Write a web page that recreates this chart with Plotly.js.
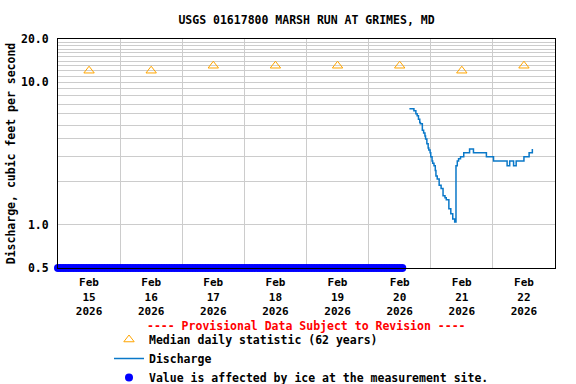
<!DOCTYPE html>
<html>
<head>
<meta charset="utf-8">
<script src="https://cdn.plot.ly/plotly-3.0.1.min.js"></script>
<style>html,body{margin:0;padding:0;background:#fff}#chart{width:576px;height:384px}</style>
</head>
<body>
<div id="chart"></div>
<script>
// Median daily statistic (62 years)
const medianTime = ['2026-02-15 12:00','2026-02-16 12:00','2026-02-17 12:00','2026-02-18 12:00',
  '2026-02-19 12:00','2026-02-20 12:00','2026-02-21 12:00','2026-02-22 12:00'];
const medianValue = [12, 12, 13, 13, 13, 13, 12, 13];

// Discharge (step series)
const dischargeTime = [
  '2026-02-20 15:45','2026-02-20 17:30','2026-02-20 18:15','2026-02-20 18:45','2026-02-20 19:15',
  '2026-02-20 19:45','2026-02-20 20:00','2026-02-20 20:45','2026-02-20 21:15','2026-02-20 21:45',
  '2026-02-20 22:00','2026-02-20 22:30','2026-02-20 23:00','2026-02-20 23:15','2026-02-20 23:45',
  '2026-02-21 00:00','2026-02-21 00:30','2026-02-21 00:45','2026-02-21 01:15','2026-02-21 01:45',
  '2026-02-21 02:00','2026-02-21 02:30','2026-02-21 03:15','2026-02-21 04:00','2026-02-21 04:45',
  '2026-02-21 05:30','2026-02-21 06:00','2026-02-21 07:00','2026-02-21 07:45','2026-02-21 08:30',
  '2026-02-21 09:15','2026-02-21 09:45','2026-02-21 10:15','2026-02-21 10:45','2026-02-21 11:30',
  '2026-02-21 12:45','2026-02-21 15:00','2026-02-21 16:30','2026-02-21 21:30','2026-02-22 00:15',
  '2026-02-22 05:30','2026-02-22 06:30','2026-02-22 08:00','2026-02-22 09:00','2026-02-22 12:00',
  '2026-02-22 14:00','2026-02-22 15:15'];
const dischargeValue = [
  6.5, 6.3, 6.0, 5.8, 5.5,
  5.2, 5.1, 4.6, 4.4, 4.2,
  4.0, 3.7, 3.45, 3.35, 3.2,
  3.0, 2.8, 2.7, 2.6, 2.4,
  2.2, 2.1, 1.9, 1.8, 1.6,
  1.55, 1.5, 1.3, 1.2, 1.1,
  1.05, 2.6, 2.8, 2.9, 3.0,
  3.2, 3.4, 3.2, 3.0, 2.8,
  2.6, 2.8, 2.6, 2.8, 3.0,
  3.2, 3.4];

// Value is affected by ice at the measurement site (hourly, plotted at axis bottom)
const iceTime = [
  '2026-02-15T00','2026-02-15T01','2026-02-15T02','2026-02-15T03','2026-02-15T04','2026-02-15T05',
  '2026-02-15T06','2026-02-15T07','2026-02-15T08','2026-02-15T09','2026-02-15T10','2026-02-15T11',
  '2026-02-15T12','2026-02-15T13','2026-02-15T14','2026-02-15T15','2026-02-15T16','2026-02-15T17',
  '2026-02-15T18','2026-02-15T19','2026-02-15T20','2026-02-15T21','2026-02-15T22','2026-02-15T23',
  '2026-02-16T00','2026-02-16T01','2026-02-16T02','2026-02-16T03','2026-02-16T04','2026-02-16T05',
  '2026-02-16T06','2026-02-16T07','2026-02-16T08','2026-02-16T09','2026-02-16T10','2026-02-16T11',
  '2026-02-16T12','2026-02-16T13','2026-02-16T14','2026-02-16T15','2026-02-16T16','2026-02-16T17',
  '2026-02-16T18','2026-02-16T19','2026-02-16T20','2026-02-16T21','2026-02-16T22','2026-02-16T23',
  '2026-02-17T00','2026-02-17T01','2026-02-17T02','2026-02-17T03','2026-02-17T04','2026-02-17T05',
  '2026-02-17T06','2026-02-17T07','2026-02-17T08','2026-02-17T09','2026-02-17T10','2026-02-17T11',
  '2026-02-17T12','2026-02-17T13','2026-02-17T14','2026-02-17T15','2026-02-17T16','2026-02-17T17',
  '2026-02-17T18','2026-02-17T19','2026-02-17T20','2026-02-17T21','2026-02-17T22','2026-02-17T23',
  '2026-02-18T00','2026-02-18T01','2026-02-18T02','2026-02-18T03','2026-02-18T04','2026-02-18T05',
  '2026-02-18T06','2026-02-18T07','2026-02-18T08','2026-02-18T09','2026-02-18T10','2026-02-18T11',
  '2026-02-18T12','2026-02-18T13','2026-02-18T14','2026-02-18T15','2026-02-18T16','2026-02-18T17',
  '2026-02-18T18','2026-02-18T19','2026-02-18T20','2026-02-18T21','2026-02-18T22','2026-02-18T23',
  '2026-02-19T00','2026-02-19T01','2026-02-19T02','2026-02-19T03','2026-02-19T04','2026-02-19T05',
  '2026-02-19T06','2026-02-19T07','2026-02-19T08','2026-02-19T09','2026-02-19T10','2026-02-19T11',
  '2026-02-19T12','2026-02-19T13','2026-02-19T14','2026-02-19T15','2026-02-19T16','2026-02-19T17',
  '2026-02-19T18','2026-02-19T19','2026-02-19T20','2026-02-19T21','2026-02-19T22','2026-02-19T23',
  '2026-02-20T00','2026-02-20T01','2026-02-20T02','2026-02-20T03','2026-02-20T04','2026-02-20T05',
  '2026-02-20T06','2026-02-20T07','2026-02-20T08','2026-02-20T09','2026-02-20T10','2026-02-20T11',
  '2026-02-20T12','2026-02-20T13'];
const iceValue = [
  0.5,0.5,0.5,0.5,0.5,0.5, 0.5,0.5,0.5,0.5,0.5,0.5, 0.5,0.5,0.5,0.5,0.5,0.5, 0.5,0.5,0.5,0.5,0.5,0.5,
  0.5,0.5,0.5,0.5,0.5,0.5, 0.5,0.5,0.5,0.5,0.5,0.5, 0.5,0.5,0.5,0.5,0.5,0.5, 0.5,0.5,0.5,0.5,0.5,0.5,
  0.5,0.5,0.5,0.5,0.5,0.5, 0.5,0.5,0.5,0.5,0.5,0.5, 0.5,0.5,0.5,0.5,0.5,0.5, 0.5,0.5,0.5,0.5,0.5,0.5,
  0.5,0.5,0.5,0.5,0.5,0.5, 0.5,0.5,0.5,0.5,0.5,0.5, 0.5,0.5,0.5,0.5,0.5,0.5, 0.5,0.5,0.5,0.5,0.5,0.5,
  0.5,0.5,0.5,0.5,0.5,0.5, 0.5,0.5,0.5,0.5,0.5,0.5, 0.5,0.5,0.5,0.5,0.5,0.5, 0.5,0.5,0.5,0.5,0.5,0.5,
  0.5,0.5,0.5,0.5,0.5,0.5, 0.5,0.5,0.5,0.5,0.5,0.5, 0.5,0.5];

// Axis ticks
const xTickVals = medianTime;
const xTickText = ['Feb<br>15<br>2026','Feb<br>16<br>2026','Feb<br>17<br>2026','Feb<br>18<br>2026',
  'Feb<br>19<br>2026','Feb<br>20<br>2026','Feb<br>21<br>2026','Feb<br>22<br>2026'];
const xGridVals = ['2026-02-16','2026-02-17','2026-02-18','2026-02-19','2026-02-20','2026-02-21','2026-02-22'];
const yTickVals = [0.5, 1, 10, 20];
const yTickText = ['0.5', '1.0', '10.0', '20.0'];
const yGridVals = [2,3,4,5,6,7,8,9,11,12,13,14,15,16,17,18,19];

const FONT = 'DejaVu Sans Mono, Liberation Mono, monospace';
const GRID = '#cccccc';

const traces = [
  {
    x: medianTime, y: medianValue, type: 'scatter', mode: 'markers',
    name: 'Median daily statistic (62 years)',
    marker: {symbol: 'triangle-up-open', size: 9, color: '#ffa500', line: {width: 1, color: '#ffa500'}},
    cliponaxis: false
  },
  {
    x: dischargeTime, y: dischargeValue, type: 'scatter', mode: 'lines',
    name: 'Discharge', line: {color: '#0a78c8', width: 1.5, shape: 'hv'}
  },
  {
    x: iceTime, y: iceValue, type: 'scatter', mode: 'markers',
    name: 'Value is affected by ice at the measurement site.',
    marker: {symbol: 'circle', size: 8, color: '#0000ff'}, cliponaxis: false
  }
];

const layout = {
  width: 576, height: 384,
  margin: {l: 58, r: 21, t: 39, b: 116, pad: 0, autoexpand: false},
  paper_bgcolor: '#ffffff', plot_bgcolor: '#ffffff',
  font: {family: FONT, size: 11.5, color: '#000000', weight: 'bold'},
  title: {
    text: 'USGS 01617800 MARSH RUN AT GRIMES, MD',
    font: {family: FONT, size: 11.5, color: '#000000', weight: 'bold'},
    x: 0.5, xref: 'paper', xanchor: 'center', y: 1 - 20/384, yanchor: 'middle'
  },
  xaxis: {
    type: 'date', range: ['2026-02-15', '2026-02-23'], automargin: false,
    tickmode: 'array', tickvals: xTickVals, ticktext: xTickText,
    ticks: '', showgrid: false, zeroline: false,
    showline: true, mirror: true, linecolor: '#000000', linewidth: 1,
    tickfont: {family: FONT, size: 11, color: '#000000', weight: 'bold'},
    ticklabelstandoff: 4,
    minor: {tickmode: 'array', tickvals: xGridVals, showgrid: true, gridcolor: GRID, gridwidth: 1, ticks: ''},
    layer: 'above traces'
  },
  yaxis: {
    type: 'log', range: [Math.log10(0.5), Math.log10(20)], automargin: false,
    tickmode: 'array', tickvals: yTickVals, ticktext: yTickText,
    ticks: '', showgrid: true, gridcolor: GRID, gridwidth: 1, zeroline: false,
    showline: true, mirror: true, linecolor: '#000000', linewidth: 1,
    tickfont: {family: FONT, size: 11.5, color: '#000000', weight: 'bold'},
    ticklabelstandoff: 6,
    minor: {tickmode: 'array', tickvals: yGridVals, showgrid: true, gridcolor: GRID, gridwidth: 1, ticks: ''},
    title: {text: 'Discharge, cubic feet per second', standoff: 2,
      font: {family: FONT, size: 11.5, color: '#000000', weight: 'bold'}},
    layer: 'above traces'
  },
  showlegend: true,
  legend: {
    x: (109 - 58) / 497, xanchor: 'left', y: (268 - 325) / 229, yanchor: 'top',
    bgcolor: 'rgba(0,0,0,0)', borderwidth: 0, tracegroupgap: 0,
    font: {family: FONT, size: 11.5, color: '#000000', weight: 'bold'},
    traceorder: 'normal'
  },
  annotations: [{
    text: '---- Provisional Data Subject to Revision ----',
    xref: 'paper', yref: 'paper', x: 0.5, y: (268 - 326) / 229,
    xanchor: 'center', yanchor: 'middle', showarrow: false,
    font: {family: FONT, size: 11.5, color: '#ff0000', weight: 'bold'}
  }],
  hovermode: false
};

Plotly.newPlot('chart', traces, layout, {displayModeBar: false, staticPlot: true});
</script>
</body>
</html>
